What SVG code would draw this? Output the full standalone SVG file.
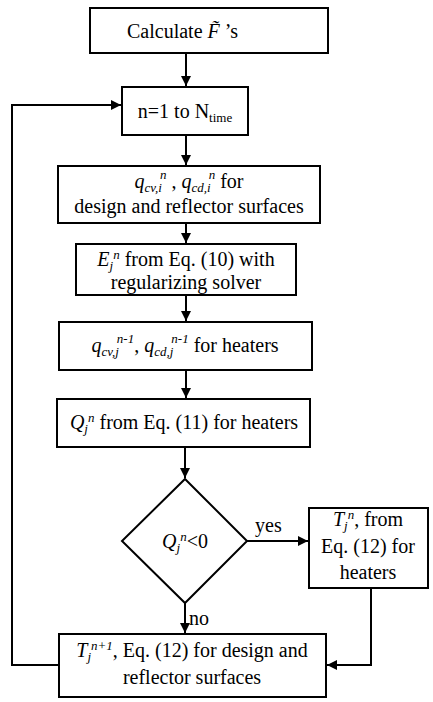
<svg xmlns="http://www.w3.org/2000/svg" width="433" height="702" viewBox="0 0 433 702">
  <style>
    .box { fill: #ffffff; stroke: #000000; stroke-width: 2; }
    .wire { fill: none; stroke: #000000; stroke-width: 2; }
    text { font-family: "Liberation Serif", "Times New Roman", Times, "Nimbus Roman", "Nimbus Roman No9 L", FreeSerif, Tinos, "Noto Serif", "DejaVu Serif", serif; font-size: 20px; fill: #000000; }
    .c { text-anchor: middle; }
    .it { font-style: italic; }
    .s { font-size: 13px; }
  </style>
  <defs>
    <marker id="arrow" viewBox="0 0 10 10" refX="10" refY="5" markerWidth="5" markerHeight="5" markerUnits="strokeWidth" orient="auto">
      <path d="M0,0 L10,5 L0,10 Z" fill="#000000"/>
    </marker>
  </defs>
  <rect width="433" height="702" fill="#ffffff"/>

  <g id="connectors">
    <path class="wire" d="M186,53 V86" marker-end="url(#arrow)"/>
    <path class="wire" d="M186,135 V165" marker-end="url(#arrow)"/>
    <path class="wire" d="M186,223 V243" marker-end="url(#arrow)"/>
    <path class="wire" d="M186,295 V321" marker-end="url(#arrow)"/>
    <path class="wire" d="M186,370 V398" marker-end="url(#arrow)"/>
    <path class="wire" d="M185,447 V478" marker-end="url(#arrow)"/>
    <path class="wire" d="M247,541 H308" marker-end="url(#arrow)"/>
    <path class="wire" d="M185,603 V633" marker-end="url(#arrow)"/>
    <path class="wire" d="M371,588 V665 H327" marker-end="url(#arrow)"/>
    <path class="wire" d="M59,665 H12 V105 H121" marker-end="url(#arrow)"/>
    <text x="255" y="532">yes</text>
    <text x="189" y="625">no</text>
  </g>

  <g id="calc-f">
    <rect class="box" x="90" y="8" width="238" height="45"/>
    <text x="127" y="38">Calculate <tspan class="it">F̃</tspan> ’s</text>
  </g>

  <g id="time-loop">
    <rect class="box" x="122" y="87" width="126" height="48"/>
    <text x="185" y="118" class="c">n=1 to N<tspan class="s" dy="4">time</tspan></text>
  </g>

  <g id="surface-fluxes">
    <rect class="box" x="58" y="166" width="262" height="57"/>
    <text x="189" y="188" class="c"><tspan class="it">q<tspan class="s" dy="4">cv,i</tspan><tspan class="s" dx="-2" dy="-13">n</tspan></tspan><tspan dy="9"> , </tspan><tspan class="it">q<tspan class="s" dy="4">cd,i</tspan><tspan class="s" dx="-2" dy="-13">n</tspan></tspan><tspan dy="9">  for</tspan></text>
    <text x="189" y="213" class="c">design and reflector surfaces</text>
  </g>

  <g id="emissive-power">
    <rect class="box" x="76" y="244" width="220" height="51"/>
    <text x="186" y="266" class="c"><tspan class="it">E<tspan class="s" dy="4">j</tspan><tspan class="s" dy="-11">n</tspan></tspan><tspan dy="7"> from Eq. (10) with</tspan></text>
    <text x="186" y="289" class="c">regularizing solver</text>
  </g>

  <g id="heater-fluxes">
    <rect class="box" x="59" y="322" width="253" height="48"/>
    <text x="185" y="352" class="c"><tspan class="it">q<tspan class="s" dy="4">cv,j</tspan><tspan class="s" dx="-2" dy="-13">n-1</tspan></tspan><tspan dy="9">, </tspan><tspan class="it">q<tspan class="s" dy="4">cd,j</tspan><tspan class="s" dx="-2" dy="-13">n-1</tspan></tspan><tspan dy="9"> for heaters</tspan></text>
  </g>

  <g id="heater-power">
    <rect class="box" x="57" y="399" width="253" height="48"/>
    <text x="184" y="429" class="c"><tspan class="it">Q<tspan class="s" dy="4">j</tspan><tspan class="s" dy="-11">n</tspan></tspan><tspan dy="7"> from Eq. (11) for heaters</tspan></text>
  </g>

  <g id="decision">
    <path class="box" d="M185,479 L247,541 L185,603 L122,541 Z"/>
    <text x="185" y="548" class="c"><tspan class="it">Q<tspan class="s" dy="4">j</tspan><tspan class="s" dy="-11">n</tspan></tspan><tspan dy="7">&lt;0</tspan></text>
  </g>

  <g id="heater-temperature">
    <rect class="box" x="309" y="508" width="119" height="80"/>
    <text x="368" y="526" class="c"><tspan class="it">T<tspan class="s" dy="4">j</tspan><tspan class="s" dy="-11">n</tspan></tspan><tspan dy="7">, from</tspan></text>
    <text x="368" y="553" class="c">Eq. (12) for</text>
    <text x="368" y="579" class="c">heaters</text>
  </g>

  <g id="surface-temperature">
    <rect class="box" x="59" y="634" width="267" height="63"/>
    <text x="192" y="657" class="c"><tspan class="it">T<tspan class="s" dy="4">j</tspan><tspan class="s" dy="-11">n+1</tspan></tspan><tspan dy="7">, Eq. (12) for design and</tspan></text>
    <text x="192" y="684" class="c">reflector surfaces</text>
  </g>
</svg>
